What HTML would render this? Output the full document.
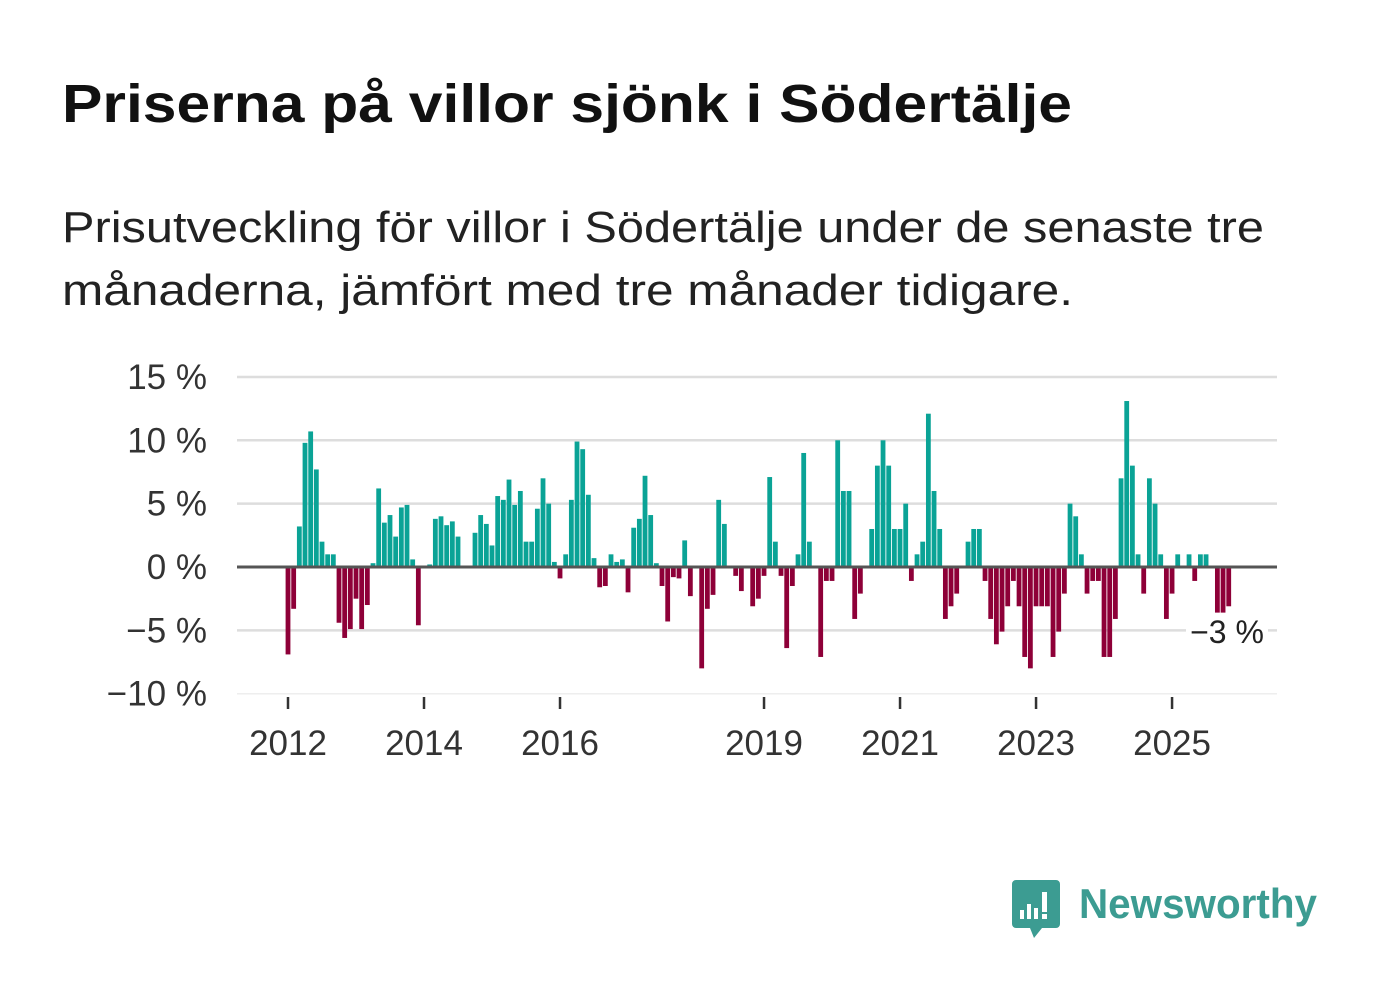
<!DOCTYPE html>
<html><head><meta charset="utf-8">
<style>
html,body{margin:0;padding:0;background:#fff;}
svg{display:block;font-family:"Liberation Sans",sans-serif;}
</style></head>
<body>
<svg id="chart" width="1382" height="999" viewBox="0 0 1382 999" xmlns="http://www.w3.org/2000/svg">
<text x="62" y="122" font-size="54" font-weight="bold" fill="#111" textLength="1010" lengthAdjust="spacingAndGlyphs">Priserna på villor sjönk i Södertälje</text>
<text x="62" y="242" font-size="44" fill="#222" textLength="1202" lengthAdjust="spacingAndGlyphs">Prisutveckling för villor i Södertälje under de senaste tre</text>
<text x="62" y="305" font-size="44" fill="#222" textLength="1011" lengthAdjust="spacingAndGlyphs">månaderna, jämfört med tre månader tidigare.</text>
<g id="grid"></g>
<g id="yticks"></g>
<g id="bars"></g>
<line x1="237" x2="1277" y1="567" y2="567" stroke="#555" stroke-width="3"/>
<g id="xticks"></g>
<g>
<rect x="1186" y="614" width="82" height="36" fill="#fff"/>
<text x="1227" y="643" font-size="32" fill="#222" text-anchor="middle">−3 %</text>
</g>
<g>
<path d="M1016 880 h40 a4 4 0 0 1 4 4 v40 a4 4 0 0 1 -4 4 h-14 l-8 10 l-4 -10 h-14 a4 4 0 0 1 -4 -4 v-40 a4 4 0 0 1 4 -4z" fill="#3c9c92"/>
<rect x="1020" y="910" width="4" height="9" fill="#fff"/>
<rect x="1027" y="904" width="4" height="15" fill="#fff"/>
<rect x="1034" y="908" width="4" height="11" fill="#fff"/>
<rect x="1042" y="892" width="5" height="20" fill="#fff"/>
<rect x="1042" y="914" width="5" height="5" fill="#fff"/>
<text x="1079" y="918" font-size="42" font-weight="bold" fill="#3c9c92" textLength="238" lengthAdjust="spacingAndGlyphs">Newsworthy</text>
</g>
</svg>
<script>
const values = [-6.9,-3.3,3.2,9.8,10.7,7.7,2.0,1.0,1.0,-4.4,-5.6,-4.9,-2.5,-4.9,-3.0,0.3,6.2,3.5,4.1,2.4,4.7,4.9,0.6,-4.6,0,0.2,3.8,4.0,3.3,3.6,2.4,0.1,0,2.7,4.1,3.4,1.7,5.6,5.3,6.9,4.9,6.0,
2.0,2.0,4.6,7.0,5.0,0.4,-0.9,1.0,5.3,9.9,9.3,5.7,0.7,-1.6,-1.5,1.0,0.4,0.6,-2.0,3.1,3.8,7.2,4.1,0.3,-1.5,-4.3,-0.8,-0.9,2.1,-2.3,0,-8.0,-3.3,-2.2,5.3,3.4,0.1,-0.7,-1.9,0,-3.1,
-2.5,-0.7,7.1,2.0,-0.7,-6.4,-1.5,1.0,9.0,2.0,0,-7.1,-1.1,-1.1,10.0,6.0,6.0,-4.1,-2.1,0,3.0,8.0,10.0,8.0,3.0,3.0,5.0,-1.1,1.0,2.0,12.1,6.0,3.0,-4.1,-3.1,-2.1,0,2.0,3.0,3.0,-1.1,-4.1,
-6.1,-5.1,-3.1,-1.1,-3.1,-7.1,-8.0,-3.1,-3.1,-3.1,-7.1,-5.1,-2.1,5.0,4.0,1.0,-2.1,-1.1,-1.1,-7.1,-7.1,-4.1,7.0,13.1,8.0,1.0,-2.1,7.0,5.0,1.0,-4.1,-2.1,1.0,0,1.0,-1.1,1.0,1.0,0,-3.6,-3.6,-3.1];
const yTicks = [15,10,5,0,-5,-10];
const xYears = [2012,2014,2016,2019,2021,2023,2025];
const startYear = 2012;

const NS="http://www.w3.org/2000/svg";
const y = v => 567 - v*12.67;
const x = i => 288 + i*5.667;
const grid=document.getElementById('grid'), yt=document.getElementById('yticks'), bars=document.getElementById('bars'), xt=document.getElementById('xticks');
yTicks.forEach(t=>{
  const l=document.createElementNS(NS,'line');
  
  
  l.setAttribute('x1',237);l.setAttribute('x2',1277);l.setAttribute('y1',y(t));l.setAttribute('y2',y(t));
  l.setAttribute('stroke', t===-10?'#eee':'#ddd');l.setAttribute('stroke-width', t===-10?1.5:2.5);
  grid.appendChild(l);
  const tx=document.createElementNS(NS,'text');
  
  
  tx.setAttribute('x',207);tx.setAttribute('y',y(t)+12);tx.setAttribute('text-anchor','end');
  tx.setAttribute('font-size','35');tx.setAttribute('fill','#333');
  tx.textContent=(t<0?'−'+Math.abs(t):t)+' %';
  yt.appendChild(tx);
});
values.forEach((v,i)=>{
  if(v===0) return;
  const r=document.createElementNS(NS,'rect');
  
  
  r.setAttribute('x',x(i)-2.4);r.setAttribute('width',4.8);
  r.setAttribute('y',Math.min(y(v),567));r.setAttribute('height',Math.abs(y(v)-567));
  r.setAttribute('fill',v>0?'#0aa396':'#8e0038');
  bars.appendChild(r);
});
xYears.forEach(yr=>{
  const px=x((yr-startYear)*12);
  const l=document.createElementNS(NS,'line');
  
  
  l.setAttribute('x1',px);l.setAttribute('x2',px);l.setAttribute('y1',697);l.setAttribute('y2',709);
  l.setAttribute('stroke','#333');l.setAttribute('stroke-width',2.5);
  xt.appendChild(l);
  const tx=document.createElementNS(NS,'text');
  
  
  tx.setAttribute('x',px);tx.setAttribute('y',755);tx.setAttribute('text-anchor','middle');
  tx.setAttribute('font-size','35');tx.setAttribute('fill','#333');
  tx.textContent=yr;
  xt.appendChild(tx);
});
</script>
</body></html>
